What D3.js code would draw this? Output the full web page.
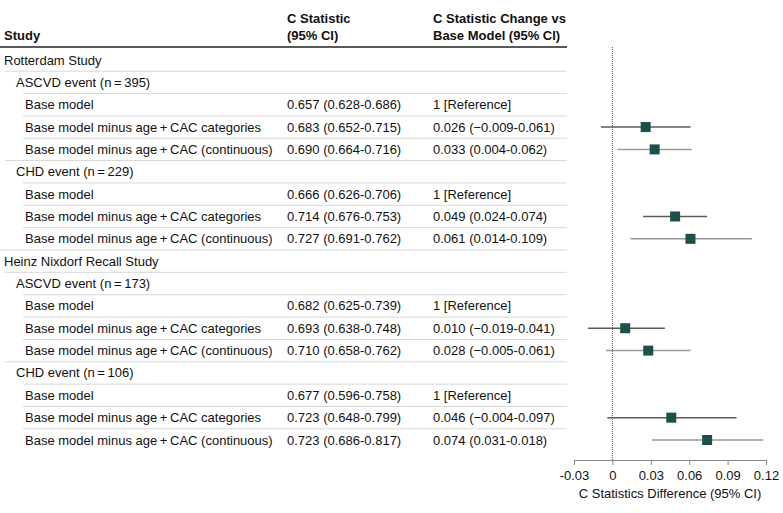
<!DOCTYPE html>
<html><head><meta charset="utf-8">
<script src="https://cdn.jsdelivr.net/npm/d3@7"></script>
<style>
body{margin:0;background:#fff;}
text{font-family:"Liberation Sans",Arial,sans-serif;font-size:13px;fill:#111;}
</style></head>
<body><svg id="c" width="783" height="513"></svg>
<script>
const T = "\u2009";
const rowLabels = ["Rotterdam Study", `ASCVD event (n${T}=${T}395)`, "Base model",
  `Base model minus age${T}+${T}CAC categories`, `Base model minus age${T}+${T}CAC (continuous)`,
  `CHD event (n${T}=${T}229)`, "Base model",
  `Base model minus age${T}+${T}CAC categories`, `Base model minus age${T}+${T}CAC (continuous)`,
  "Heinz Nixdorf Recall Study", `ASCVD event (n${T}=${T}173)`, "Base model",
  `Base model minus age${T}+${T}CAC categories`, `Base model minus age${T}+${T}CAC (continuous)`,
  `CHD event (n${T}=${T}106)`, "Base model",
  `Base model minus age${T}+${T}CAC categories`, `Base model minus age${T}+${T}CAC (continuous)`];
const rowLevels = [0,1,2,2,2,1,2,2,2,0,1,2,2,2,1,2,2,2];
const cStatText = ["","","0.657 (0.628-0.686)","0.683 (0.652-0.715)","0.690 (0.664-0.716)",
  "","0.666 (0.626-0.706)","0.714 (0.676-0.753)","0.727 (0.691-0.762)",
  "","","0.682 (0.625-0.739)","0.693 (0.638-0.748)","0.710 (0.658-0.762)",
  "","0.677 (0.596-0.758)","0.723 (0.648-0.799)","0.723 (0.686-0.817)"];
const changeText = ["","","1 [Reference]","0.026 (\u22120.009-0.061)","0.033 (0.004-0.062)",
  "","1 [Reference]","0.049 (0.024-0.074)","0.061 (0.014-0.109)",
  "","","1 [Reference]","0.010 (\u22120.019-0.041)","0.028 (\u22120.005-0.061)",
  "","1 [Reference]","0.046 (\u22120.004-0.097)","0.074 (0.031-0.018)"];
// plotted estimates (row index, estimate, low, high, type)
const estRows = [3,4,7,8,12,13,16,17];
const estimates = [0.026,0.033,0.049,0.061,0.010,0.028,0.046,0.074];
const ciLow = [-0.009,0.004,0.024,0.014,-0.019,-0.005,-0.004,0.031];
const ciHigh = [0.061,0.062,0.074,0.109,0.041,0.061,0.097,0.118];
const estTypes = ["cat","cont","cat","cont","cat","cont","cat","cont"];
const xTicks = [-0.03,0,0.03,0.06,0.09,0.12];
const xTickLabels = ["-0.03","0","0.03","0.06","0.09","0.12"];
const headers = [["Study"],["C Statistic","(95% CI)"],["C Statistic Change vs","Base Model (95% CI)"]];

const svg = d3.select("#c");
const y = d3.scalePoint().domain(d3.range(rowLabels.length)).range([60,440]);
const x = d3.scaleLinear().domain([-0.03,0.12]).range([574,766]);
const step = y.step();
const textX = [4,16,25];
const lineX = [0,5,23];
const col2 = 287, col3 = 433, tableRight = 567;

// headers
const hx = [4,col2,col3];
headers.forEach((h,i)=>{
  h.forEach((t,j)=>{
    svg.append("text").attr("x",hx[i]).attr("y",40 - (h.length-1-j)*17)
      .style("font-weight","bold").text(t);
  });
});
svg.append("line").attr("x1",0).attr("x2",tableRight).attr("y1",47).attr("y2",47)
  .attr("stroke","#222").attr("stroke-width",1.5);

// separators
rowLabels.forEach((l,i)=>{
  if(i>0){
    svg.append("line").attr("x1",lineX[rowLevels[i]]).attr("x2",tableRight)
      .attr("y1",y(i)-step/2).attr("y2",y(i)-step/2)
      .attr("stroke","#d8d8d8").attr("stroke-width",1);
  }
});
// row texts
rowLabels.forEach((l,i)=>{
  svg.append("text").attr("x",textX[rowLevels[i]]).attr("y",y(i)).attr("dy","0.35em").text(l);
  if(cStatText[i]) svg.append("text").attr("x",col2).attr("y",y(i)).attr("dy","0.35em").text(cStatText[i]);
  if(changeText[i]) svg.append("text").attr("x",col3).attr("y",y(i)).attr("dy","0.35em").text(changeText[i]);
});

// zero line
svg.append("line").attr("x1",x(0)).attr("x2",x(0)).attr("y1",47).attr("y2",460)
  .attr("stroke","#555").attr("stroke-width",1).attr("stroke-dasharray","1,1");

// CI lines and markers
estRows.forEach((r,k)=>{
  svg.append("line").attr("x1",x(ciLow[k])).attr("x2",x(ciHigh[k]))
    .attr("y1",y(r)).attr("y2",y(r))
    .attr("stroke",estTypes[k]==="cat"?"#5a5a5a":"#9a9a9a").attr("stroke-width",1.5);
});
const ms = 10;
estRows.forEach((r,k)=>{
  svg.append("rect").attr("x",x(estimates[k])-ms/2).attr("y",y(r)-ms/2)
    .attr("width",ms).attr("height",ms).attr("fill","#1d4f4b");
});

// axis
const axis = d3.axisBottom(x).tickValues(xTicks).tickSize(5).tickSizeOuter(0)
  .tickFormat((d,i)=>xTickLabels[i]);
const ag = svg.append("g").attr("transform","translate(0,460)").call(axis);
ag.select(".domain").attr("stroke","#888");
ag.selectAll(".tick line").attr("stroke","#888");
ag.selectAll(".tick text").attr("dy","0.9em").style("font-size","13px")
  .style("font-family","'Liberation Sans',Arial,sans-serif").attr("fill","#111");
svg.append("text").attr("x",(x.range()[0]+x.range()[1])/2).attr("y",498)
  .attr("text-anchor","middle").text("C Statistics Difference (95% CI)");
</script></body></html>
